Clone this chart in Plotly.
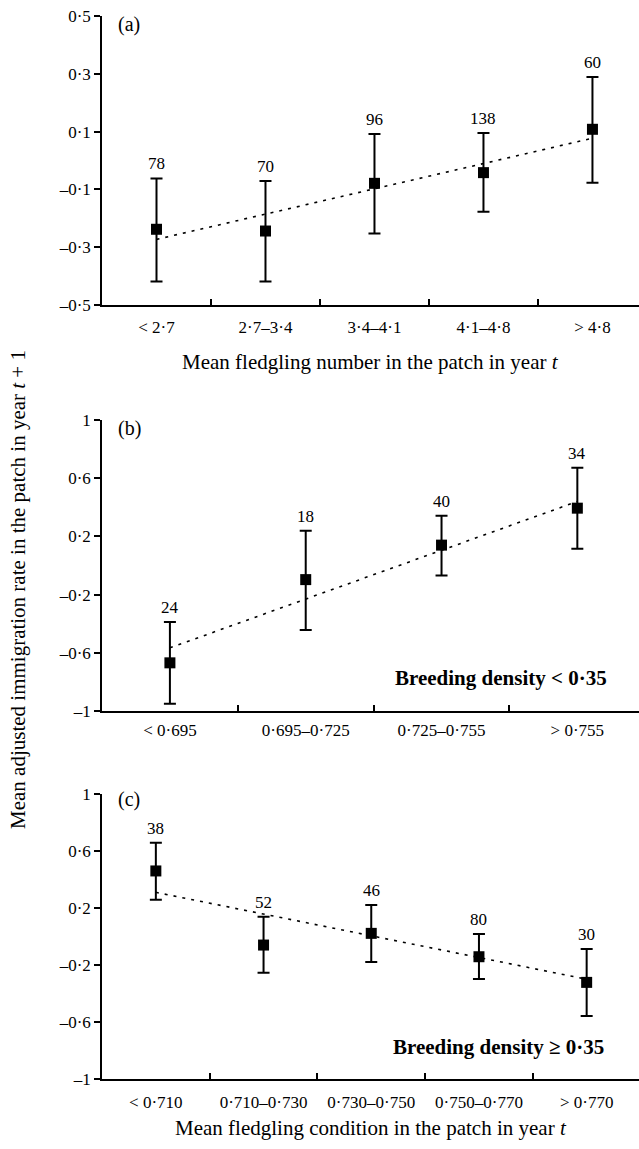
import plotly.graph_objects as go

# ---------------- data ----------------
cats_a = ["< 2·7", "2·7–3·4", "3·4–4·1", "4·1–4·8", "> 4·8"]
mean_a = [-0.238, -0.244, -0.079, -0.042, 0.108]
upper_a = [-0.062, -0.071, 0.092, 0.095, 0.289]
lower_a = [-0.419, -0.419, -0.253, -0.177, -0.077]
n_a = [78, 70, 96, 138, 60]
trend_a = [-0.273, 0.077]

cats_b = ["< 0·695", "0·695–0·725", "0·725–0·755", "> 0·755"]
mean_b = [-0.669, -0.097, 0.140, 0.394]
upper_b = [-0.388, 0.239, 0.342, 0.671]
lower_b = [-0.950, -0.443, -0.068, 0.115]
n_b = [24, 18, 40, 34]
trend_b = [-0.566, 0.440]

cats_c = ["< 0·710", "0·710–0·730", "0·730–0·750", "0·750–0·770", "> 0·770"]
mean_c = [0.460, -0.060, 0.022, -0.142, -0.322]
upper_c = [0.658, 0.139, 0.221, 0.018, -0.088]
lower_c = [0.258, -0.254, -0.179, -0.298, -0.558]
n_c = [38, 52, 46, 80, 30]
trend_c = [0.310, -0.300]

yticks_a = [-0.5, -0.3, -0.1, 0.1, 0.3, 0.5]
yticks_bc = [-1, -0.6, -0.2, 0.2, 0.6, 1]

FONT = "Liberation Serif, Times New Roman, serif"


def fmt(v):
    s = f"{abs(v):.1f}".replace(".", "·")
    if s.endswith("·0"):
        s = s[:-2]
    return ("–" if v < 0 else "") + s


fig = go.Figure()

panels = [
    ("", cats_a, mean_a, upper_a, lower_a, n_a, trend_a),
    ("2", cats_b, mean_b, upper_b, lower_b, n_b, trend_b),
    ("3", cats_c, mean_c, upper_c, lower_c, n_c, trend_c),
]

for suf, cats, mean, up, lo, n, tr in panels:
    xs = [i + 0.5 for i in range(len(cats))]
    fig.add_trace(go.Scatter(
        x=[xs[0], xs[-1]], y=tr, mode="lines",
        line=dict(color="black", width=1.6, dash="3px,6px"),
        xaxis="x" + suf, yaxis="y" + suf, showlegend=False, hoverinfo="skip"))
    fig.add_trace(go.Scatter(
        x=xs, y=mean, mode="markers",
        marker=dict(symbol="square", size=11, color="black"),
        error_y=dict(type="data", symmetric=False,
                     array=[u - m for u, m in zip(up, mean)],
                     arrayminus=[m - l for m, l in zip(mean, lo)],
                     color="black", thickness=2, width=6),
        xaxis="x" + suf, yaxis="y" + suf, showlegend=False))
    for x, u, k in zip(xs, up, n):
        fig.add_annotation(x=x, y=u, xref="x" + suf, yref="y" + suf,
                           text=str(k), showarrow=False, yanchor="bottom",
                           yshift=3, font=dict(family=FONT, size=17, color="black"))

xaxis_common = dict(showline=True, linecolor="black", linewidth=1.5,
                    showgrid=False, zeroline=False, ticks="", automargin=False,
                    tickfont=dict(family=FONT, size=17, color="black"))
yaxis_common = dict(showline=True, linecolor="black", linewidth=1.5,
                    showgrid=False, zeroline=False, ticks="outside",
                    ticklen=6, tickwidth=1.5, tickcolor="black", automargin=False,
                    tickfont=dict(family=FONT, size=17, color="black"))


def xa(cats, xmax, anchor, standoff):
    d = dict(xaxis_common)
    d.update(range=[0, xmax], tickmode="array",
             tickvals=[i + 0.5 for i in range(len(cats))], ticktext=cats,
             anchor=anchor, domain=[0, 1], ticklabelstandoff=standoff,
             minor=dict(ticks="inside", tickmode="array",
                        tickvals=list(range(1, len(cats))),
                        ticklen=6, tickwidth=1.5, tickcolor="black"))
    return d


def ya(ticks, rng, domain, anchor):
    d = dict(yaxis_common)
    d.update(range=rng, tickmode="array", tickvals=ticks,
             ticktext=[fmt(t) for t in ticks], domain=domain, anchor=anchor)
    return d


H = 1149
fig.update_layout(
    width=639, height=H,
    margin=dict(l=102, r=0, t=0, b=0, autoexpand=False),
    paper_bgcolor="white", plot_bgcolor="white",
    xaxis=xa(cats_a, 4.927, "y", 6),
    xaxis2=xa(cats_b, 3.954, "y2", 3),
    xaxis3=xa(cats_c, 4.986, "y3", 7),
    yaxis=ya(yticks_a, [-0.5, 0.5], [1 - 305 / H, 1 - 16 / H], "x"),
    yaxis2=ya(yticks_bc, [-1, 1], [1 - 711 / H, 1 - 420 / H], "x2"),
    yaxis3=ya(yticks_bc, [-1, 1], [1 - 1079 / H, 1 - 794 / H], "x3"),
)

# panel letters
for suf, lab, yy in [("", "(a)", 0.972), ("2", "(b)", 0.9725), ("3", "(c)", 0.979)]:
    fig.add_annotation(x=0.026, y=yy, xref=("x" + suf) + " domain",
                       yref=("y" + suf) + " domain", text=lab, showarrow=False,
                       xanchor="left", yanchor="middle",
                       font=dict(family=FONT, size=20, color="black"))

# bold condition labels
fig.add_annotation(x=0.743, y=0.113, xref="x2 domain", yref="y2 domain",
                   text="<b>Breeding density < 0·35</b>", showarrow=False,
                   xanchor="center", yanchor="middle",
                   font=dict(family=FONT, size=21, color="black"))
fig.add_annotation(x=0.739, y=0.112, xref="x3 domain", yref="y3 domain",
                   text="<b>Breeding density ≥ 0·35</b>", showarrow=False,
                   xanchor="center", yanchor="middle",
                   font=dict(family=FONT, size=21, color="black"))

# axis titles
fig.add_annotation(x=0.5, y=1 - 362 / H, xref="paper", yref="paper",
                   text="Mean fledgling number in the patch in year <i>t</i>",
                   showarrow=False, xanchor="center", yanchor="middle",
                   font=dict(family=FONT, size=21, color="black"))
fig.add_annotation(x=0.5, y=1 - 1128 / H, xref="paper", yref="paper",
                   text="Mean fledgling condition in the patch in year <i>t</i>",
                   showarrow=False, xanchor="center", yanchor="middle",
                   font=dict(family=FONT, size=21, color="black"))
fig.add_annotation(x=(18 - 102) / 537, y=1 - 590 / H, xref="paper", yref="paper",
                   text="Mean adjusted immigration rate in the patch in year <i>t</i> + 1",
                   showarrow=False, textangle=-90, xanchor="center", yanchor="middle",
                   font=dict(family=FONT, size=21, color="black"))

fig.write_html("out.html",
               config={"displayModeBar": False},
               post_script="document.body.style.margin='0';"
                           "document.body.style.overflow='hidden';")
